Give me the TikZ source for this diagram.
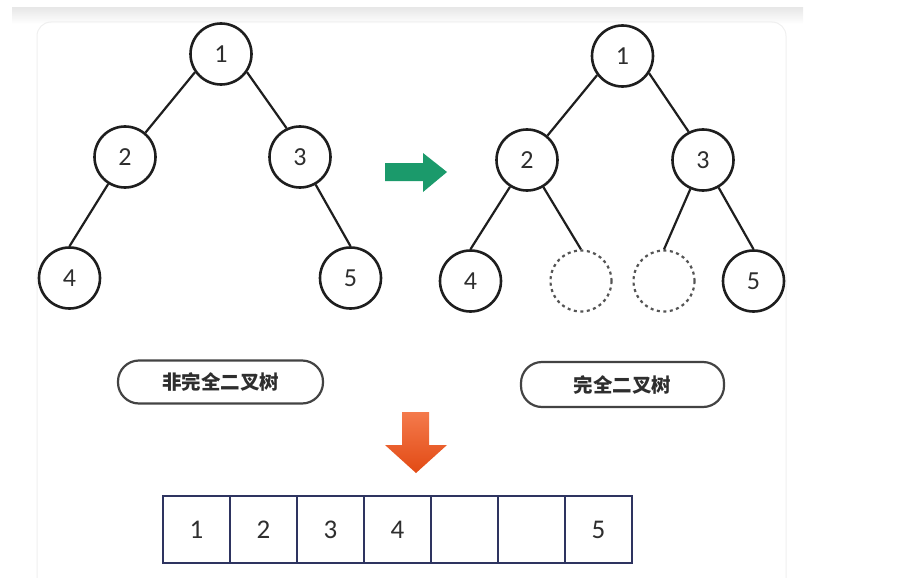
\documentclass[tikz,border=0pt]{standalone}
\usepackage{fontspec}
\setmainfont{Carlito}
\newfontfamily\cjk{Noto Sans CJK SC}
\usetikzlibrary{shapes.geometric}
\definecolor{edgec}{HTML}{1E1E1E}
\definecolor{txtc}{HTML}{2E2E2E}
\definecolor{dashc}{HTML}{555555}
\definecolor{navy}{HTML}{2E3460}
\definecolor{arrgreen}{HTML}{1B9A6B}
\definecolor{orangetop}{HTML}{F47A4C}
\definecolor{orangebot}{HTML}{E24A14}
\definecolor{panelline}{HTML}{EFEFEF}
\tikzset{
  treenode/.style={circle, draw=edgec, line width=2.6pt, minimum size=61pt, inner sep=0pt,
    text=txtc, font=\fontsize{26}{28}\selectfont},
  ghostnode/.style={circle, draw=dashc, line width=2.2pt, dash pattern=on 3pt off 3.5pt,
    minimum size=61pt, inner sep=0pt},
  treeedge/.style={draw=edgec, line width=2.2pt},
  labelbox/.style={draw=txtc!90, line width=2.2pt, rounded corners=21pt, inner sep=0pt,
    text=txtc, font=\cjk\bfseries\fontsize{19.5}{21}\selectfont},
  cell/.style={draw=navy, line width=2.2pt, minimum width=67pt, minimum height=67pt, inner sep=0pt,
    text=txtc, font=\fontsize{27}{29}\selectfont}
}
\begin{document}
\begin{tikzpicture}[x=1pt,y=-1pt]
\useasboundingbox (0,0) rectangle (902,578);
% background
\shade[top color=black!9, bottom color=white] (12,8) rectangle (803,24);
\draw[panelline, line width=1pt, rounded corners=14pt] (37,590) -- (37,22) -- (786,22) -- (786,590);

% left tree
\node[treenode] (a1) at (221,54) {1};
\node[treenode] (a2) at (125,157) {2};
\node[treenode] (a3) at (300,157) {3};
\node[treenode] (a4) at (69.5,278) {4};
\node[treenode] (a5) at (350.5,278) {5};
\draw[treeedge] (a1.-145) -- (a2.50);
\draw[treeedge] (a1.-35) -- (a3.115);
\draw[treeedge] (a2) -- (a4.north);
\draw[treeedge] (a3) -- (a5.north);

% right tree
\node[treenode] (b1) at (622.5,56) {1};
\node[treenode] (b2) at (527,160) {2};
\node[treenode] (b3) at (703,160) {3};
\node[treenode] (b4) at (470.5,281) {4};
\node[ghostnode] (b6) at (581,281) {};
\node[ghostnode] (b7) at (664,281) {};
\node[treenode] (b5) at (753.5,281) {5};
\draw[treeedge] (b1.-143) -- (b2.50);
\draw[treeedge] (b1.-33) -- (b3.117);
\draw[treeedge] (b2) -- (b4.north);
\draw[treeedge] (b2) -- (b6.north);
\draw[treeedge] (b3) -- (b7.north);
\draw[treeedge] (b3) -- (b5.north);

% green arrow
\fill[arrgreen] (385,163) -- (423,163) -- (423,153) -- (447,172) -- (423,192) -- (423,181) -- (385,181) -- cycle;

% labels
\node[labelbox, minimum width=205pt, minimum height=43pt] (lab1) at (220.5,382) {非完全二叉树};
\node[labelbox, minimum width=203pt, minimum height=45pt] (lab2) at (622.5,384.5) {完全二叉树};

% orange arrow
\shade[top color=orangetop, bottom color=orangebot] (402,412) -- (429,412) -- (429,445) -- (447,445) -- (416,473) -- (385,445) -- (402,445) -- cycle;

% array
\node[cell] (c1) at (196.5,529.5) {1};
\node[cell] (c2) at (263.5,529.5) {2};
\node[cell] (c3) at (330.5,529.5) {3};
\node[cell] (c4) at (397.5,529.5) {4};
\node[cell] (c5) at (464.5,529.5) {};
\node[cell] (c6) at (531.5,529.5) {};
\node[cell] (c7) at (598.5,529.5) {5};
\end{tikzpicture}
\end{document}
